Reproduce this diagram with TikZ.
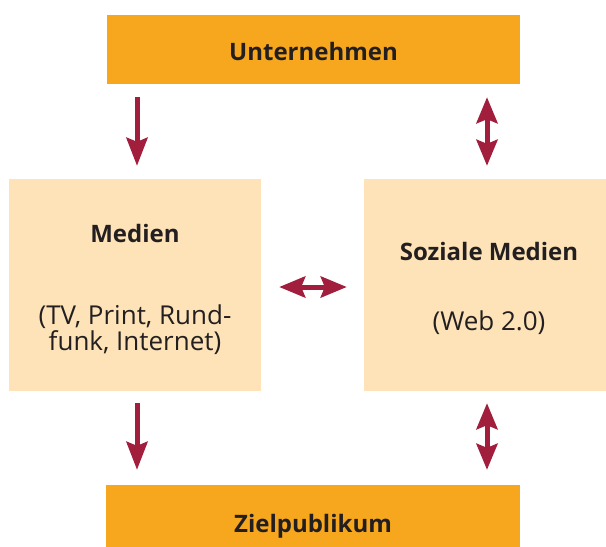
\documentclass[tikz,border=0pt]{standalone}
\usepackage{fontspec}
\setmainfont{Open Sans}
\usetikzlibrary{arrows.meta,positioning}
\definecolor{boxorange}{HTML}{F7A71D}
\definecolor{boxcream}{HTML}{FDE3B7}
\definecolor{pfeilrot}{HTML}{A11F3D}
\definecolor{schrift}{HTML}{231F20}

\begin{document}
\begin{tikzpicture}[x=1pt, y=-1pt,
  hauptbox/.style={fill=boxorange, minimum width=413pt, inner sep=0pt},
  medienbox/.style={fill=boxcream, minimum height=212pt, inner sep=0pt},
  titel/.style={anchor=base, inner sep=0pt, text=schrift,
    font=\fontsize{24}{28}\selectfont\bfseries},
  untertitel/.style={inner sep=0pt, align=center, text=schrift,
    font=\fontsize{26}{26}\selectfont},
  pfeil/.style={draw=pfeilrot, line width=5pt,
    -{Stealth[length=28pt, width=21pt, inset=4pt]}},
  doppelpfeil/.style={pfeil,
    {Stealth[length=26pt, width=21pt, inset=4pt]}-{Stealth[length=26pt, width=21pt, inset=4pt]}}]
  %% Rahmen
  \useasboundingbox (0,0) rectangle (606,547);

  %% Boxen
  \node[hauptbox, minimum height=69pt] (unt) at (313.5,49.5) {};
  \node[hauptbox, minimum height=62pt, minimum width=414pt] (ziel) at (313,516) {};
  \node[medienbox, minimum width=252pt] (med) at (135,285) {};
  \node[medienbox, minimum width=242pt] (soz) at (485,285) {};

  %% Texte
  \node[titel] (untT) at ([yshift=-10.5pt]unt.center) {Unternehmen};
  \node[titel] (zielT) at ([yshift=-16pt]ziel.center) {Zielpublikum};
  \node[titel] (medT) at ([yshift=-64pt]med.north) {Medien};
  \node[untertitel] (medU) at ([yshift=-151pt]med.north) {(TV, Print, Rund-\\funk, Internet)};
  \node[titel] (sozT) at ([xshift=4pt, yshift=-82pt]soz.north) {Soziale Medien};
  \node[untertitel, anchor=base] (sozU) at ([xshift=4pt, yshift=-152pt]soz.north) {(Web 2.0)};

  %% Pfeile
  \draw[pfeil, shorten <=13pt, shorten >=13pt] ([xshift=2pt]unt.south -| med.north) -- ([xshift=2pt]med.north);
  \draw[doppelpfeil, shorten <=13pt, shorten >=13pt] ([xshift=2pt]unt.south -| soz.north) -- ([xshift=2pt]soz.north);
  \draw[doppelpfeil, shorten <=18pt, shorten >=17pt] ([yshift=-2pt]med.east) -- ([yshift=-2pt]soz.west);
  \draw[pfeil, shorten <=12pt, shorten >=15pt] ([xshift=2pt]med.south) -- ([xshift=2pt]med.south |- ziel.north);
  \draw[doppelpfeil, shorten <=12pt, shorten >=15pt] ([xshift=2pt]soz.south) -- ([xshift=2pt]soz.south |- ziel.north);
\end{tikzpicture}
\end{document}
